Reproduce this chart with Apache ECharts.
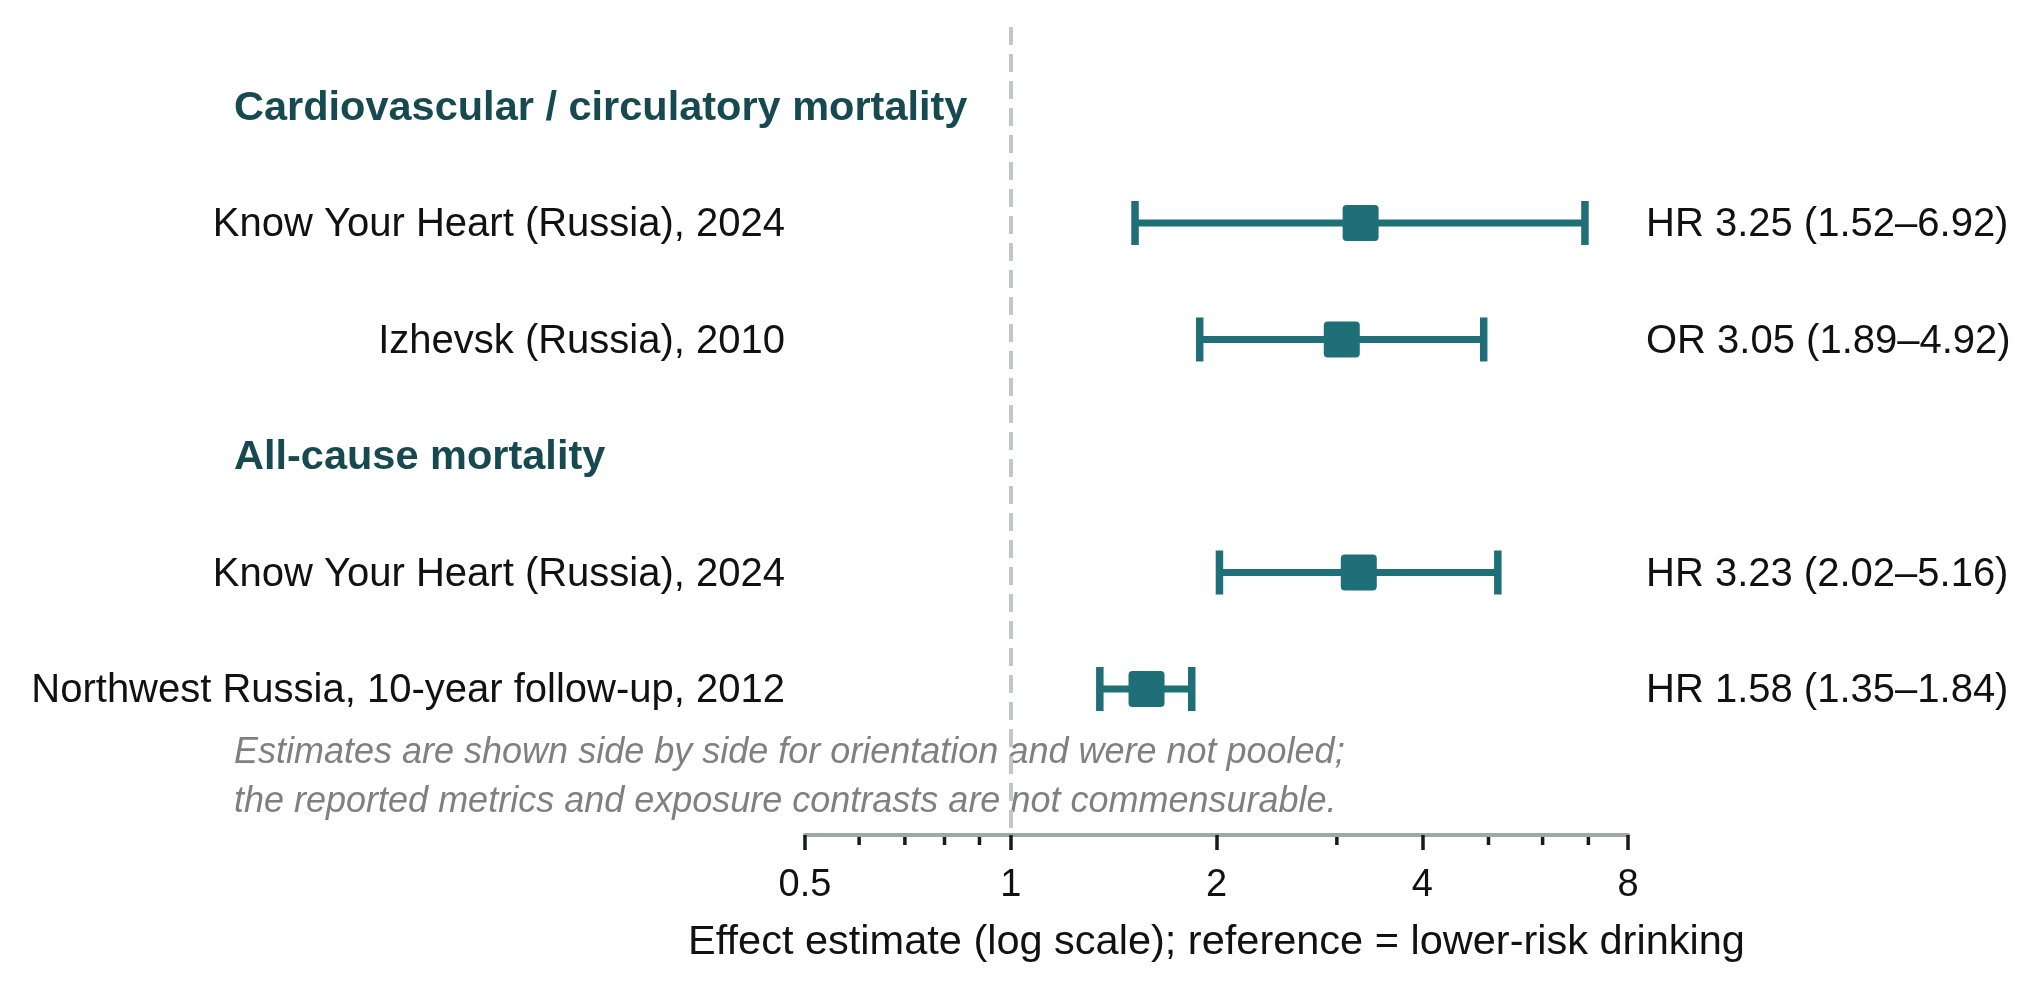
<!DOCTYPE html>
<html><head><meta charset="utf-8">
<script src="https://cdn.jsdelivr.net/npm/echarts@6/dist/echarts.min.js"></script>
<style>html,body{margin:0;padding:0;background:#fff}#c{width:2026px;height:986px}</style>
</head><body><div id="c"></div>
<script>
// ---- data ----
const rowLabels = [
  'Cardiovascular / circulatory mortality',
  'Know Your Heart (Russia), 2024',
  'Izhevsk (Russia), 2010',
  'All-cause mortality',
  'Know Your Heart (Russia), 2024',
  'Northwest Russia, 10-year follow-up, 2012'
];
const rowIsHeader = [true, false, false, true, false, false];
const metrics   = [null, 'HR', 'OR', null, 'HR', 'HR'];
const estimates = [null, 3.25, 3.05, null, 3.23, 1.58];
const lowerCI   = [null, 1.52, 1.89, null, 2.02, 1.35];
const upperCI   = [null, 6.92, 4.92, null, 5.16, 1.84];
const xTicks = [0.5, 1, 2, 4, 8];
const xMinorTicks = [0.6, 0.7, 0.8, 0.9, 3, 5, 6, 7];
const referenceValue = 1;
const noteLines = [
  'Estimates are shown side by side for orientation and were not pooled;',
  'the reported metrics and exposure contrasts are not commensurable.'
];
const axisTitle = 'Effect estimate (log scale); reference = lower-risk drinking';

// ---- style ----
const FONT = "'Liberation Sans', Arial, Helvetica, sans-serif";
const TEAL = '#1f6f78';
const HEAD = '#174a50';
const Y_MIN = -0.682, Y_MAX = 6.253;

const fmt = v => v.toFixed(2);
const ciData = [];
rowLabels.forEach((_, i) => { if (!rowIsHeader[i]) ciData.push([lowerCI[i], upperCI[i], estimates[i], i]); });
const textData = rowLabels.map((_, i) => [xTicks[0], i]);
const minorData = xMinorTicks.map(v => [v, Y_MAX]);

const chart = echarts.init(document.getElementById('c'), null, {renderer: 'canvas'});
chart.setOption({
  animation: false,
  backgroundColor: '#ffffff',
  grid: {left: 805, right: 398, top: 27, bottom: 151},
  xAxis: {
    type: 'log', logBase: 2, min: xTicks[0], max: xTicks[xTicks.length - 1], splitNumber: 4,
    position: 'bottom',
    axisLine: {show: true, onZero: false, lineStyle: {color: '#9ea8a8', width: 4}},
    axisTick: {show: true, length: 15, lineStyle: {color: '#1a1a1a', width: 3.5}},
    axisLabel: {fontSize: 38, color: '#111', fontFamily: FONT, margin: 32,
      formatter: v => String(+(+v).toPrecision(3))},
    splitLine: {show: false},
    name: axisTitle, nameLocation: 'middle', nameGap: 87,
    nameTextStyle: {fontSize: 41.5, color: '#111', fontFamily: FONT}
  },
  yAxis: {type: 'value', inverse: true, min: Y_MIN, max: Y_MAX, show: false},
  graphic: [{
    type: 'text', left: 234, top: 728, z: 0,
    style: {text: noteLines.join('\n'), fontSize: 36, fontStyle: 'italic', fontFamily: FONT,
      fill: '#808080', lineHeight: 49}
  }],
  series: [
    {
      type: 'custom', name: 'ci', clip: false, z: 5,
      data: ciData, encode: {x: [0, 1, 2], y: 3},
      renderItem: (params, api) => {
        const r = api.value(3);
        const pl = api.coord([api.value(0), r]);
        const ph = api.coord([api.value(1), r]);
        const pe = api.coord([api.value(2), r]);
        const y = pl[1];
        return {type: 'group', children: [
          {type: 'line', shape: {x1: pl[0], y1: y, x2: ph[0], y2: y}, style: {stroke: TEAL, lineWidth: 7}},
          {type: 'line', shape: {x1: pl[0], y1: y - 22, x2: pl[0], y2: y + 22}, style: {stroke: TEAL, lineWidth: 7.5}},
          {type: 'line', shape: {x1: ph[0], y1: y - 22, x2: ph[0], y2: y + 22}, style: {stroke: TEAL, lineWidth: 7.5}},
          {type: 'rect', shape: {x: pe[0] - 18, y: y - 18, width: 36, height: 36, r: 4}, style: {fill: TEAL}}
        ]};
      },
      markLine: {
        silent: true, symbol: ['none', 'none'], label: {show: false},
        lineStyle: {color: '#bfc7c7', width: 4, type: [18, 9]},
        data: [{xAxis: referenceValue}]
      }
    },
    {
      type: 'custom', name: 'texts', clip: false, silent: true,
      data: textData, encode: {x: 0, y: 1},
      renderItem: (params, api) => {
        const i = api.value(1);
        const p = api.coord([xTicks[0], i]);
        const pr = api.coord([xTicks[xTicks.length - 1], i]);
        const y = p[1] + 2;
        if (rowIsHeader[i]) {
          return {type: 'text', style: {x: 234, y: y, text: rowLabels[i], fontSize: 41.5, fontWeight: 'bold',
            fontFamily: FONT, fill: HEAD, align: 'left', verticalAlign: 'middle'}};
        }
        return {type: 'group', children: [
          {type: 'text', style: {x: p[0] - 20, y: y, text: rowLabels[i], fontSize: 40, fontFamily: FONT,
            fill: '#111', align: 'right', verticalAlign: 'middle'}},
          {type: 'text', style: {x: pr[0] + 18, y: y,
            text: metrics[i] + ' ' + fmt(estimates[i]) + ' (' + fmt(lowerCI[i]) + '\u2013' + fmt(upperCI[i]) + ')',
            fontSize: 40, fontFamily: FONT, fill: '#111', align: 'left', verticalAlign: 'middle'}}
        ]};
      }
    },
    {
      type: 'custom', name: 'minorTicks', clip: false, silent: true,
      data: minorData, encode: {x: 0, y: 1},
      renderItem: (params, api) => {
        const p = api.coord([api.value(0), api.value(1)]);
        return {type: 'line', shape: {x1: p[0], y1: p[1] + 2, x2: p[0], y2: p[1] + 10},
          style: {stroke: '#1a1a1a', lineWidth: 3.5}};
      }
    }
  ]
});
</script>
</body></html>
